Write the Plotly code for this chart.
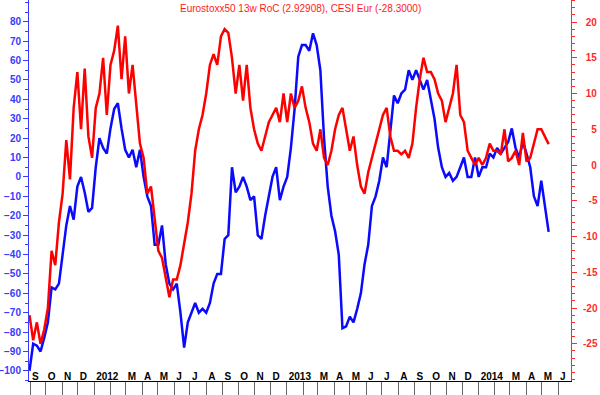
import plotly.graph_objects as go
import pandas as pd

# ---- data (weekly observations) ----
first_week = "2011-08-31"

# CESI Eur (blue, left axis)
cesi_eur = [
    -100, -86, -87, -90, -83, -75, -57, -58, -55, -40,
    -25, -15, -22, -5, 0, -8, -18, -16, 5, 20,
    15, 12, 25, 35, 38, 25, 14, 10, 14, 5,
    14, 0, -10, -15, -35, -35, -25, -45, -55, -58,
    -55, -70, -88, -75, -70, -65, -70, -68, -70, -65,
    -55, -50, -50, -32, -30, 5, -8, -5, 0, -5,
    -12, -10, -30, -32, -20, -10, 0, 5, -12, -5,
    0, 15, 35, 62, 68, 68, 65, 74, 68, 55,
    20, -5, -20, -28, -40, -78, -77, -72, -75, -68,
    -60, -45, -35, -15, -10, -2, 10, 5, 25, 42,
    38, 43, 45, 55, 50, 55, 50, 45, 50, 40,
    30, 15, 5, 0, 2, -2, 0, 5, 10, 0,
    0, 10, 0, 5, 5, 12, 10, 15, 12, 15,
    18, 25, 15, 10, 18, 12, 5, -10, -15, -2,
    -15, -28.3,
]

# Eurostoxx50 13w RoC (red, right axis)
stoxx_roc = [
    -21, -24.5, -22, -25, -23, -20, -12, -14, -8, -4,
    3.5, -2, 8, 13, 5, 13.5, 4, 1, 8, 10,
    15, 7, 14, 16, 19.5, 12, 18, 10, 14, 8,
    3, 1, -4, -3, -8, -12, -13, -16, -18.5, -16,
    -16, -14, -11, -8, -4, 2, 5, 7, 10, 14,
    15.5, 14, 18, 19, 18.5, 15, 10, 14, 9, 14,
    8, 5, 3, 2, 4, 6, 7, 8, 6, 10,
    6, 10, 8, 9, 11, 8, 6, 3, 2, 5,
    1, 0, 2, 5, 7, 8, 5, 2, 4, 0,
    -3, -4, -1, 1, 3, 5, 7, 8, 4, 2,
    2, 1.5, 2, 1, 3, 8, 12, 15, 13, 13,
    12, 10, 9, 6, 8, 10, 14, 7, 6, 2,
    1, 0, 1, 0, 1, 3, 2, 2, 1.5, 5,
    0.5, 1, 2, 0, 4.5, 0.5, 1, 3, 5, 5,
    4, 2.93,
]

month_labels = [
    "S", "O", "N", "D",
    "2012", "", "M", "A", "M", "J", "J", "A", "S", "O", "N", "D",
    "2013", "", "M", "A", "M", "J", "J", "A", "S", "O", "N", "D",
    "2014", "", "M", "A", "M", "J",
]
left_ticks = [-100, -90, -80, -70, -60, -50, -40, -30, -20, -10,
              0, 10, 20, 30, 40, 50, 60, 70, 80]
right_ticks = [-25, -20, -15, -10, -5, 0, 5, 10, 15, 20]

title_text = "Eurostoxx50 13w RoC (2.92908), CESI Eur (-28.3000)"

# ---- build ----
dates = pd.date_range(first_week, periods=len(cesi_eur), freq="7D")
month_starts = pd.date_range("2011-09-01", periods=len(month_labels), freq="MS")

# right-axis labels are right aligned in the original: pad with spaces
FS = "\u2007"  # figure space (digit width)
PS = "\u2008"  # punctuation space


def pad_right_label(v):
    s = str(v)
    if v <= -10:
        return s
    if v < 0:
        return FS + s
    if v >= 10:
        return PS + s
    return FS + PS + s


right_text = [pad_right_label(v) for v in right_ticks]

BLUE_AX = "#3a3aff"
RED_AX = "#ff2a2a"

fig = go.Figure()
fig.add_trace(go.Scatter(
    x=dates, y=cesi_eur, mode="lines", yaxis="y",
    line=dict(color="#0a0aff", width=2.5), name="CESI Eur",
))
fig.add_trace(go.Scatter(
    x=dates, y=stoxx_roc, mode="lines", yaxis="y2",
    line=dict(color="#ff0000", width=2.5), name="Eurostoxx50 13w RoC",
))

fig.update_layout(
    width=600, height=395,
    margin=dict(l=29, r=29, t=0, b=14, pad=0, autoexpand=False),
    paper_bgcolor="white", plot_bgcolor="white",
    showlegend=False,
    font=dict(family="Arial, Liberation Sans, sans-serif", size=10),
    xaxis=dict(
        range=["2011-08-30 02:00", "2014-06-25 12:00"],
        automargin=False,
        tickmode="array", tickvals=month_starts, ticktext=month_labels,
        tickangle=0,
        ticks="outside", ticklen=14, tickwidth=1, tickcolor="#666666",
        ticklabelposition="outside right", ticklabelstandoff=-14,
        ticklabelshift=1,
        tickfont=dict(color="black", size=10, weight="bold"),
        showline=True, linecolor="black", linewidth=1,
        showgrid=False, zeroline=False,
    ),
    yaxis=dict(
        range=[-105.2, 91.2],
        automargin=False,
        tickmode="array", tickvals=left_ticks,
        ticks="outside", ticklen=5, tickwidth=1, tickcolor=BLUE_AX,
        minor=dict(tickmode="linear", tick0=0, dtick=5, ticks="outside",
                   ticklen=3, tickcolor=BLUE_AX, showgrid=False),
        tickfont=dict(color=BLUE_AX, size=10, weight="bold"),
        showline=True, linecolor=BLUE_AX, linewidth=1,
        showgrid=False, zeroline=False,
    ),
    yaxis2=dict(
        overlaying="y", side="right",
        range=[-30.2, 23.08],
        automargin=False,
        tickmode="array", tickvals=right_ticks, ticktext=right_text,
        ticks="outside", ticklen=5, tickwidth=1, tickcolor=RED_AX,
        ticklabelstandoff=4,
        minor=dict(tickmode="linear", tick0=0, dtick=1, ticks="outside",
                   ticklen=3, tickcolor=RED_AX, showgrid=False),
        tickfont=dict(color=RED_AX, size=10, weight="bold"),
        showline=True, linecolor=RED_AX, linewidth=1,
        showgrid=False, zeroline=False,
    ),
    annotations=[dict(
        text=title_text, xref="paper", yref="paper", x=0.5, y=1,
        xanchor="center", yanchor="top", yshift=-1, showarrow=False,
        font=dict(color="#ff1a1a", size=10),
    )],
)

fig.write_html(
    "out.html",
    config={"displayModeBar": False},
    post_script="document.body.style.margin='0';document.body.style.padding='0';",
)
